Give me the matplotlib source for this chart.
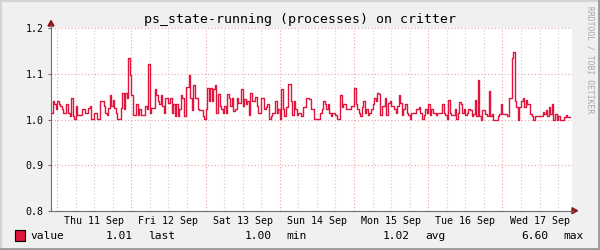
import matplotlib
matplotlib.use('Agg')
import matplotlib.pyplot as plt
import matplotlib.dates as mdates
from matplotlib.ticker import FuncFormatter, NullFormatter
from matplotlib.lines import Line2D
from matplotlib.patches import Rectangle, Polygon
import pandas as pd

# ---------------- data ----------------
title = "ps_state-running (processes) on critter"
series_name = "value"
start_time = "2025-09-10 22:00"
step = "30min"
values = [
    # Wed night / Thu
    1.015, 1.040, 1.035, 1.022, 1.040, 1.033, 1.029, 1.022, 1.015, 1.015,
    1.035, 1.015, 1.007, 1.047, 1.007, 1.001, 1.029, 1.009, 1.009, 1.009,
    1.022, 1.022, 1.015, 1.015, 1.025, 1.029, 1.001, 1.001, 1.015, 1.015,
    1.001, 1.001, 1.040, 1.040, 1.029, 1.015, 1.009, 1.025, 1.054, 1.030,
    1.043, 1.025, 1.015, 1.001, 1.001, 1.025, 1.059, 1.022, 1.059, 1.047,
    1.134, 1.098, 1.054, 1.009, 1.009, 1.035, 1.009, 1.022, 1.009, 1.009,
    1.009, 1.029, 1.022, 1.122, 1.015, 1.025, 1.025, 1.067,
    1.054, 1.040, 1.035, 1.054, 1.029, 1.015, 1.048, 1.048, 1.036, 1.048,
    1.015, 1.035, 1.007, 1.035, 1.007, 1.023, 1.054, 1.047, 1.007, 1.072,
    1.072, 1.098, 1.047, 1.020, 1.076, 1.048, 1.048, 1.022, 1.020, 1.020,
    1.007, 1.001, 1.022, 1.070, 1.040, 1.070, 1.040, 1.067, 1.076, 1.015,
    1.057, 1.029, 1.022, 1.015, 1.030, 1.015, 1.056, 1.047, 1.030, 1.047,
    1.018, 1.022, 1.047, 1.036, 1.036, 1.067, 1.029, 1.045, 1.033, 1.040,
    1.009, 1.059, 1.040, 1.040, 1.050, 1.029, 1.015, 1.015,
    1.047, 1.047, 1.022, 1.027, 1.035, 1.001, 1.007, 1.015, 1.015, 1.040,
    1.015, 1.022, 1.001, 1.067, 1.022, 1.007, 1.027, 1.077, 1.077, 1.040,
    1.009, 1.040, 1.022, 1.009, 1.015, 1.015, 1.007, 1.027, 1.027, 1.047,
    1.047, 1.045, 1.022, 1.022, 1.001, 1.001, 1.001, 1.001, 1.015, 1.022,
    1.040, 1.035, 1.022, 1.035, 1.015, 1.007, 1.015, 1.015, 1.009, 1.001,
    1.001, 1.054, 1.027, 1.035, 1.035, 1.022, 1.022, 1.022, 1.029, 1.030,
    1.070, 1.035, 1.022, 1.015, 1.007, 1.027, 1.040, 1.015,
    1.022, 1.009, 1.015, 1.022, 1.033, 1.047, 1.040, 1.059, 1.057, 1.009,
    1.029, 1.029, 1.047, 1.009, 1.036, 1.040, 1.029, 1.029, 1.022, 1.015,
    1.029, 1.054, 1.036, 1.009, 1.022, 1.035, 1.015, 1.009, 1.001, 1.015,
    1.015, 1.015, 1.022, 1.022, 1.027, 1.015, 1.001, 1.009, 1.022, 1.015,
    1.035, 1.009, 1.022, 1.015, 1.015, 1.009, 1.015, 1.015, 1.015, 1.035,
    1.015, 1.009, 1.001, 1.043, 1.015, 1.009, 1.009, 1.022, 1.001, 1.015,
    1.038, 1.035, 1.015, 1.022, 1.009, 1.015, 1.022, 1.020,
    1.008, 1.013, 1.043, 1.008, 1.087, 1.008, 1.000, 1.020, 1.020, 1.013,
    1.008, 1.063, 1.008, 1.013, 1.000, 1.000, 1.000, 1.008, 1.013, 1.034,
    1.013, 1.013, 1.013, 1.008, 1.047, 1.047, 1.134, 1.147, 1.040, 1.027,
    1.000, 1.027, 1.040, 1.047, 1.027, 1.043, 1.034, 1.034, 1.013, 1.008,
    1.000, 1.008, 1.008, 1.008, 1.008, 1.008, 1.017, 1.013, 1.020, 1.008,
    1.027, 1.013, 1.034, 1.000, 1.013, 1.000, 1.008, 1.000, 1.000, 1.000,
    1.005, 1.010, 1.005, 1.005,
]
y_ticks = [0.8, 0.9, 1.0, 1.1, 1.2]
y_tick_labels = ["0.8", "0.9", "1.0", "1.1", "1.2"]
legend_last = "1.01"
legend_min = "1.00"
legend_avg = "1.02"
legend_max = "6.60"
watermark = "RRDTOOL / TOBI OETIKER"

# ---------------- style ----------------
W, H = 600, 250
BG = '#F0F0F0'
LINE = '#E0143C'
AXIS = '#707070'
ARROW = '#8B1A1A'
MGRID = '#F0A0A0'
GRID = '#CFCFCF'
MONO = 'DejaVu Sans Mono'

def fx(x):
    return x / W

def fy(y):
    return 1 - y / H

fig = plt.figure(figsize=(6, 2.5), dpi=100, facecolor=BG)
left, right, top, bottom = 51, 572, 28.3, 210.7
ax = fig.add_axes([fx(left), fy(bottom), (right - left) / W, (bottom - top) / H])
ax.set_facecolor('white')

times = pd.date_range(start_time, periods=len(values) + 1, freq=step)
ax.plot(times, list(values) + [values[-1]], drawstyle='steps-post',
        color=LINE, lw=1.0, zorder=3)

ax.set_ylim(y_ticks[0], y_ticks[-1])
ax.set_xlim(times[0], times[-1] + pd.Timedelta("30min"))
ax.set_yticks(y_ticks)
ax.set_yticklabels(y_tick_labels)

ax.xaxis.set_major_locator(mdates.DayLocator())
ax.xaxis.set_major_formatter(NullFormatter())
ax.xaxis.set_minor_locator(mdates.HourLocator(byhour=[6, 12, 18]))

def noon_label(x, pos):
    d = mdates.num2date(x)
    return d.strftime('%a %d %b') if d.hour == 12 else ''

ax.xaxis.set_minor_formatter(FuncFormatter(noon_label))

ax.set_axisbelow(True)
ax.yaxis.grid(True, which='major', color=MGRID, linestyle=(0, (1, 2)), lw=0.8)
ax.xaxis.grid(True, which='major', color=MGRID, linestyle=(0, (1, 2)), lw=0.8)
ax.xaxis.grid(True, which='minor', color=GRID, linestyle=(0, (1, 2)), lw=0.8)

ax.tick_params(axis='x', which='both', length=0, pad=4)
ax.tick_params(axis='y', which='major', length=2, color=AXIS, pad=3.5)
for lab in ax.get_xticklabels(minor=True) + ax.get_yticklabels():
    lab.set_fontfamily(MONO)
    lab.set_fontsize(7.2)
    lab.set_color('#000000')

for s in ['top', 'right']:
    ax.spines[s].set_visible(False)
for s in ['left', 'bottom']:
    ax.spines[s].set_color(AXIS)
    ax.spines[s].set_linewidth(0.8)

# axis extensions and arrows
fig.add_artist(Line2D([fx(left), fx(left)], [fy(top), fy(25)], color=AXIS, lw=0.8,
                      transform=fig.transFigure))
fig.add_artist(Line2D([fx(right), fx(573)], [fy(bottom), fy(bottom)], color=AXIS, lw=0.8,
                      transform=fig.transFigure))
fig.add_artist(Polygon([(fx(48), fy(26)), (fx(54), fy(26)), (fx(51), fy(20.5))],
                       closed=True, color=ARROW, transform=fig.transFigure))
fig.add_artist(Polygon([(fx(572), fy(bottom - 3)), (fx(572), fy(bottom + 3)),
                        (fx(577.5), fy(bottom))],
                       closed=True, color=ARROW, transform=fig.transFigure))

# title
fig.text(0.5, fy(19), title, ha='center', va='center', family=MONO,
         fontsize=9.5, color='#000000')

# watermark
fig.text(fx(590), fy(60), watermark, rotation=270, ha='center', va='center',
         family=MONO, fontsize=5.8, color='#A8A8A8')

# legend
fig.add_artist(Rectangle((fx(15), fy(241)), 10 / W, 11 / H, facecolor=LINE,
                         edgecolor='#000000', lw=0.8, transform=fig.transFigure))
ly = fy(236)
LFS = 8.1
fig.text(fx(30), ly, series_name, ha='left', va='center', family=MONO, fontsize=LFS)
fig.text(fx(133), ly, legend_last, ha='right', va='center', family=MONO, fontsize=LFS)
fig.text(fx(148), ly, 'last', ha='left', va='center', family=MONO, fontsize=LFS)
fig.text(fx(271.5), ly, legend_min, ha='right', va='center', family=MONO, fontsize=LFS)
fig.text(fx(286), ly, 'min', ha='left', va='center', family=MONO, fontsize=LFS)
fig.text(fx(410), ly, legend_avg, ha='right', va='center', family=MONO, fontsize=LFS)
fig.text(fx(425), ly, 'avg', ha='left', va='center', family=MONO, fontsize=LFS)
fig.text(fx(548.5), ly, legend_max, ha='right', va='center', family=MONO, fontsize=LFS)
fig.text(fx(563), ly, 'max', ha='left', va='center', family=MONO, fontsize=LFS)

# 3D border
LIGHT, DARK = '#D4D4D4', '#9C9C9C'
bw = 1.6
fig.add_artist(Line2D([0, 1], [fy(0.8), fy(0.8)], color=LIGHT, lw=bw, transform=fig.transFigure))
fig.add_artist(Line2D([fx(0.8), fx(0.8)], [0, 1], color=LIGHT, lw=bw, transform=fig.transFigure))
fig.add_artist(Line2D([0, 1], [fy(249.2), fy(249.2)], color=DARK, lw=bw * 1.3, transform=fig.transFigure))
fig.add_artist(Line2D([fx(599.2), fx(599.2)], [0, 1], color=DARK, lw=bw * 1.3, transform=fig.transFigure))

fig.savefig('out.png', dpi=100, facecolor=BG)
